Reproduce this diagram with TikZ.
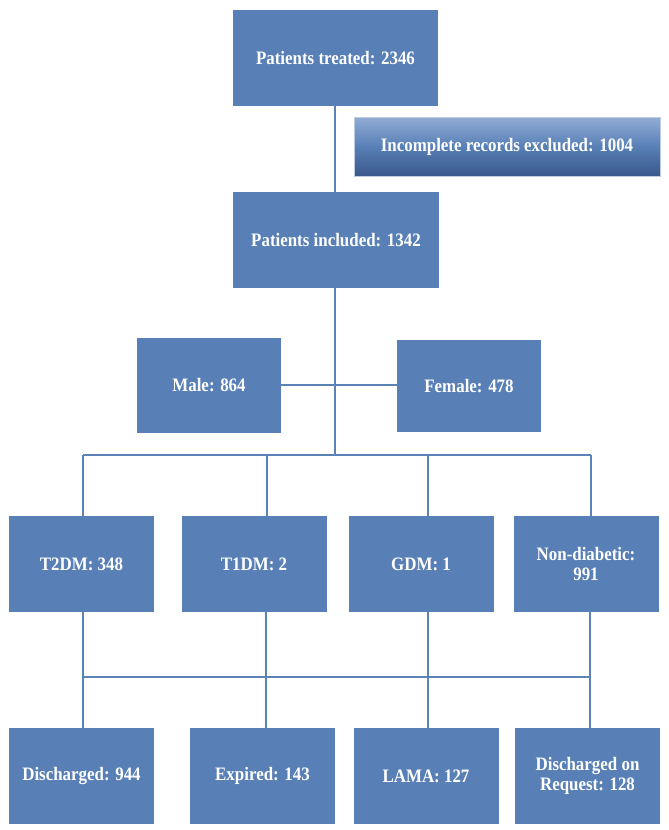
\documentclass[tikz,border=0pt]{standalone}
\usepackage{fontspec}
\setmainfont{Liberation Serif}[FakeStretch=0.89]
\usepackage{xcolor}
\usetikzlibrary{positioning}
\definecolor{boxblue}{RGB}{88,128,182}
\definecolor{lineblue}{RGB}{92,131,184}
\definecolor{inctop}{RGB}{146,172,212}
\definecolor{incbot}{RGB}{58,88,138}

\begin{document}
\begin{tikzpicture}[x=1pt,y=-1pt,
    link/.style={draw=lineblue,line width=1.8pt}]
\useasboundingbox (0,0) rectangle (669,830);

\begin{scope}[every node/.style={rectangle,fill=boxblue,text=white,inner sep=0pt,
              font=\fontsize{19}{20.5}\selectfont\bfseries,align=center,
              minimum width=145pt,minimum height=96pt}]
    \node[minimum width=205pt] (treated) at (335.5,58) {Patients treated: 2346};
    \node[minimum width=206pt] (included) at (336,240) {Patients included: 1342};
    \node[minimum height=95pt,minimum width=144pt] (male) at (209,385) {Male: 864};
    \node[minimum height=92pt,minimum width=144pt] (female) at (469,386) {Female: 478};

    \node (t2dm) at (81.5,564) {T2DM: 348};
    \node (t1dm) at (254,564) {T1DM: 2};
    \node (gdm) at (421,564) {GDM: 1};
    \node (nondm) at (586,564) {Non-diabetic:\\991};

    \node (disch) at (81.5,776) {Discharged: 944};
    \node (expired) at (262.5,776) {Expired: 143};
    \node (lama) at (426,776) {LAMA: 127};
    \node (request) at (587.5,776) {Discharged on\\Request: 128};
\end{scope}

\node[rectangle,top color=inctop,bottom color=incbot,middle color=boxblue,
      draw=inctop!60!white,line width=0.4pt,text=white,
      font=\fontsize{19}{20.5}\selectfont\bfseries,
      minimum width=306pt,minimum height=59pt,inner sep=0pt] (excluded) at (507,146.5)
      {Incomplete records excluded: 1004};

% branch points
\coordinate (split) at (335,455);
\coordinate (c1) at (83,455);
\coordinate (c2) at (267,455);
\coordinate (c3) at (428,455);
\coordinate (c4) at (591,455);
\coordinate (o1) at (83,677);
\coordinate (o2) at (266,677);
\coordinate (o3) at (428,677);
\coordinate (o4) at (590,677);

\draw[link] (treated.south -| split) -- (included.north -| split);
\draw[link] (included.south -| split) -- (split);
\draw[link] (male.east) -- (male.east -| female.west);
\draw[link] (c1) -- (c4);
\draw[link] (c1) -- (c1 |- t2dm.north);
\draw[link] (c2) -- (c2 |- t1dm.north);
\draw[link] (c3) -- (c3 |- gdm.north);
\draw[link] (c4) -- (c4 |- nondm.north);
\draw[link] (o1 |- t2dm.south) -- (o1 |- disch.north);
\draw[link] (o2 |- t1dm.south) -- (o2 |- expired.north);
\draw[link] (o3 |- gdm.south) -- (o3 |- lama.north);
\draw[link] (o4 |- nondm.south) -- (o4 |- request.north);
\draw[link] (o1) -- (o4);
\end{tikzpicture}
\end{document}
